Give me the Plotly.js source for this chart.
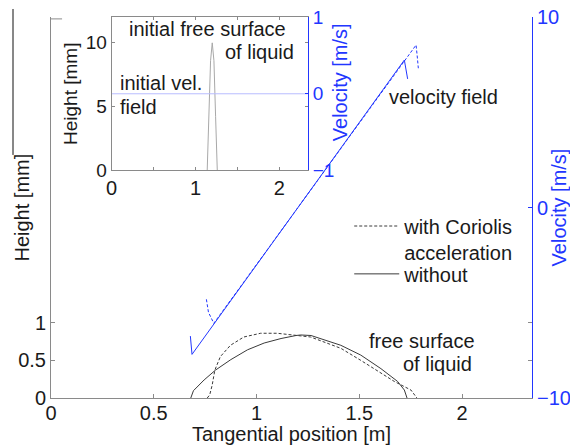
<!DOCTYPE html>
<html>
<head>
<meta charset="utf-8">
<script src="https://cdn.plot.ly/plotly-3.0.1.min.js"></script>
<style>html,body{margin:0;padding:0;background:#fff;}#chart{width:570px;height:448px;}</style>
</head>
<body>
<div id="chart"></div>
<script>
// ---- data ----
// free surface of liquid (height, mm) vs tangential position (m)
var fsWithoutX = [0.68, 0.693, 0.745, 0.80, 0.875, 0.956, 1.037, 1.119, 1.192, 1.215, 1.265, 1.312, 1.41, 1.507, 1.605, 1.686, 1.719, 1.732];
var fsWithoutH = [0, 0.097, 0.24, 0.37, 0.51, 0.64, 0.73, 0.79, 0.83, 0.837, 0.83, 0.79, 0.70, 0.57, 0.39, 0.22, 0.106, 0];
var fsWithX = [0.76, 0.772, 0.784, 0.797, 0.824, 0.873, 0.938, 1.02, 1.10, 1.18, 1.263, 1.312, 1.41, 1.507, 1.605, 1.67, 1.751, 1.78];
var fsWithH = [0, 0.04, 0.17, 0.37, 0.55, 0.70, 0.81, 0.86, 0.86, 0.84, 0.81, 0.76, 0.66, 0.50, 0.33, 0.22, 0.106, 0];
// velocity field (m/s)
var velWithoutX = [0.678, 0.682, 0.686, 1.719, 1.727, 1.735];
var velWithoutV = [-6.75, -7.3, -7.71, 7.74, 7.2, 6.75];
var velWithX = [0.756, 0.766, 0.792, 1.776, 1.782, 1.787];
var velWithV = [-4.82, -5.5, -6.08, 8.53, 7.9, 7.31];
// inset: initial state
var initX = [1.14, 1.16, 1.18, 1.2, 1.22, 1.24, 1.26];
var initH = [0, 4.2, 8.6, 10, 8.6, 4.2, 0];
var initVelX = [0, 2.34];
var initVelV = [0, 0];
// tick labels
var mainXTicks = [0, 0.5, 1, 1.5, 2];
var mainYTicks = [0, 0.5, 1];
var velTicks = [-10, 0, 10];
var insetXTicks = [0, 0.5, 1, 1.5, 2];
var insetXText = ['0', '', '1', '', '2'];
var insetYTicks = [0, 5, 10];
var insetVelTicks = [-1, 0, 1];

var FONT = 'Liberation Sans, Arial, sans-serif';
var GRAY = '#8a8a8a';
var BLUE = '#2236ff';
var INK = '#1a1a1a';

var traces = [
  {x: fsWithX, y: fsWithH, xaxis: 'x', yaxis: 'y', mode: 'lines', name: 'with Coriolis<br>acceleration',
   legend: 'legend', line: {color: '#3a3a3a', width: 1, dash: '3px,2px'}},
  {x: fsWithoutX, y: fsWithoutH, xaxis: 'x', yaxis: 'y', mode: 'lines', name: 'without',
   legend: 'legend2', line: {color: '#3a3a3a', width: 1}},
  {x: velWithX, y: velWithV, xaxis: 'x', yaxis: 'y2', mode: 'lines', showlegend: false,
   line: {color: BLUE, width: 1, dash: '3px,2px'}},
  {x: velWithoutX, y: velWithoutV, xaxis: 'x', yaxis: 'y2', mode: 'lines', showlegend: false,
   line: {color: BLUE, width: 1}},
  {x: initX, y: initH, xaxis: 'x2', yaxis: 'y3', mode: 'lines', showlegend: false,
   line: {color: '#a8a8a8', width: 1}},
  {x: initVelX, y: initVelV, xaxis: 'x2', yaxis: 'y4', mode: 'lines', showlegend: false,
   line: {color: '#b8bcff', width: 1}}
];

var tf = {family: FONT, size: 20, color: INK};
function note(text, x, y, extra) {
  var a = {text: text, xref: 'paper', yref: 'paper', x: x, y: y, xanchor: 'center', yanchor: 'middle',
           showarrow: false, font: tf};
  for (var k in (extra || {})) a[k] = extra[k];
  return a;
}
var legStyle = {x: 0.62, xanchor: 'left', yanchor: 'top', bgcolor: 'rgba(0,0,0,0)',
                font: {family: FONT, size: 20, color: INK}, valign: 'top', itemwidth: 45};
var leg1 = Object.assign({}, legStyle, {y: 0.5026});
var leg2 = Object.assign({}, legStyle, {y: 0.377});

var layout = {
  width: 570, height: 448,
  margin: {l: 51, r: 38, t: 17, b: 50},
  paper_bgcolor: '#fff', plot_bgcolor: 'rgba(0,0,0,0)',
  font: {family: FONT, size: 20, color: INK},
  showlegend: true,
  legend: leg1,
  legend2: leg2,
  xaxis: {domain: [0, 1], range: [0, 2.34], anchor: 'y', tickvals: mainXTicks, ticks: 'inside', ticklen: 4,
          tickcolor: GRAY, showline: true, linecolor: GRAY, linewidth: 1, showgrid: false, zeroline: false,
          tickfont: tf, ticklabelstandoff: -3},
  yaxis: {range: [0, 5.06], tickvals: mainYTicks, ticks: 'inside', ticklen: 4, tickcolor: GRAY,
          showline: true, linecolor: GRAY, mirror: 'ticks', showgrid: false, zeroline: false,
          tickfont: tf},
  yaxis2: {overlaying: 'y', side: 'right', anchor: 'x', range: [-10, 10], tickvals: velTicks, ticks: 'inside',
           ticklen: 4, tickcolor: BLUE, showline: true, linecolor: BLUE, showgrid: false, zeroline: false,
           tickfont: {family: FONT, size: 20, color: BLUE},
           title: {text: 'Velocity [m/s]', font: {family: FONT, size: 20, color: BLUE}, standoff: 2}},
  xaxis2: {domain: [0.126, 0.534], anchor: 'y3', range: [0, 2.34], tickvals: insetXTicks, ticktext: insetXText,
           ticks: 'inside', ticklen: 3, tickcolor: GRAY, showline: true, linecolor: GRAY, mirror: 'ticks',
           showgrid: false, zeroline: false, tickfont: tf},
  yaxis3: {domain: [0.598, 0.999], anchor: 'x2', range: [0, 12], tickvals: insetYTicks, ticks: 'inside',
           ticklen: 3, tickcolor: GRAY, showline: true, linecolor: GRAY, mirror: 'ticks', showgrid: false,
           zeroline: false, tickfont: {family: FONT, size: 19, color: INK},
           title: {text: 'Height [mm]', font: {family: FONT, size: 19, color: INK}, standoff: 3}},
  yaxis4: {overlaying: 'y3', side: 'right', anchor: 'x2', range: [-1, 1], tickvals: insetVelTicks,
           ticks: 'inside', ticklen: 3, tickcolor: BLUE, showline: true, linecolor: BLUE, showgrid: false,
           zeroline: false, tickfont: {family: FONT, size: 19, color: BLUE}},
  annotations: [
    note('Tangential position [m]', 0.5, -0.095),
    note('Height [mm]', -0.0613, 0.4987, {textangle: -90}),
    note('Velocity [m/s]', 0.601, 0.829, {textangle: -90, font: {family: FONT, size: 20, color: BLUE}}),
    note('velocity field', 0.816, 0.790),
    note('free surface', 0.772, 0.150),
    note('of liquid', 0.804, 0.088),
    note('initial free surface', 0.325, 0.9685),
    note('of liquid', 0.4345, 0.907),
    note('initial vel.', 0.140, 0.828, {xanchor: 'left'}),
    note('field', 0.140, 0.765, {xanchor: 'left'})
  ],
  shapes: [
    {type: 'line', xref: 'paper', yref: 'paper', x0: -0.079, x1: -0.079, y0: 0.638, y1: 1.021,
     line: {color: '#111', width: 1}},
    {type: 'line', xref: 'paper', yref: 'paper', x0: 0, x1: 0.023, y0: 0.995, y1: 0.995,
     line: {color: GRAY, width: 1}}
  ]
};

Plotly.newPlot('chart', traces, layout, {staticPlot: true, displayModeBar: false});
</script>
</body>
</html>
